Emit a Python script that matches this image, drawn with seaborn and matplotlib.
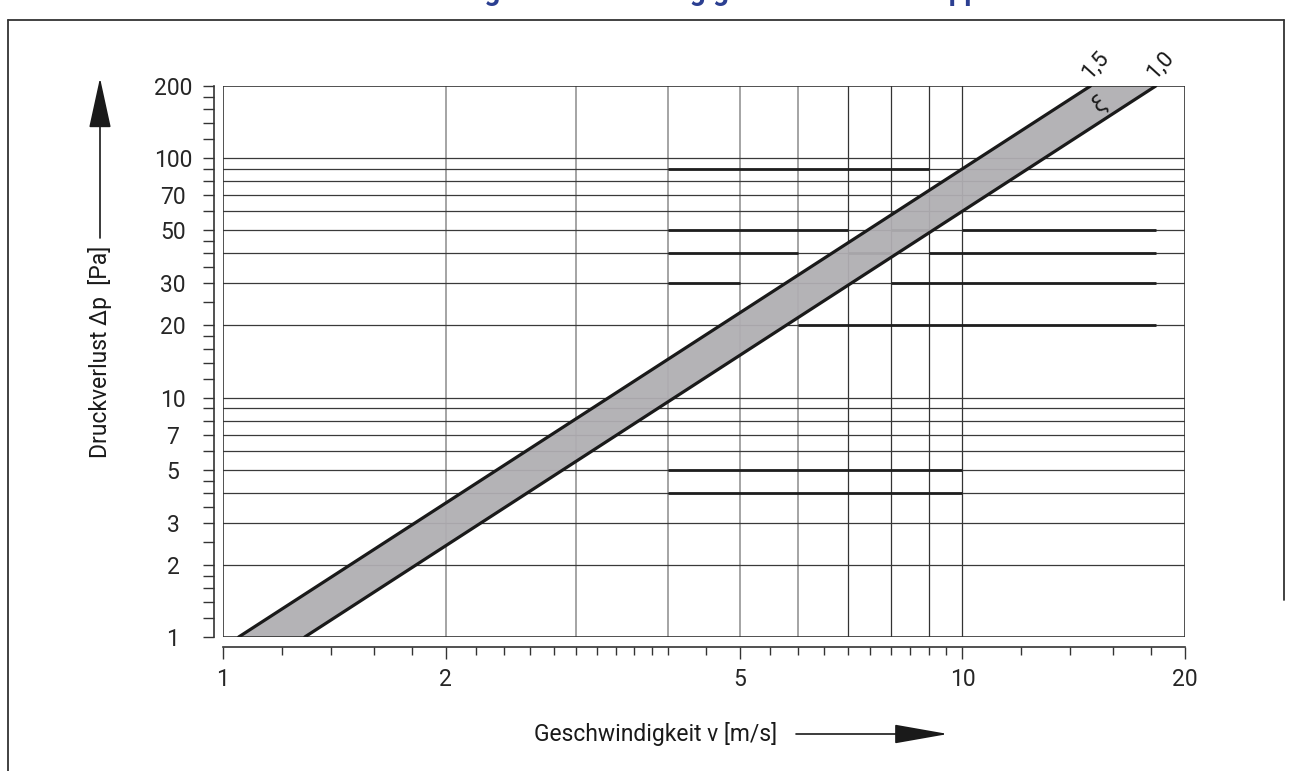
import numpy as np
import pandas as pd
import matplotlib.pyplot as plt
import seaborn as sns
from matplotlib.lines import Line2D
from matplotlib.ticker import FixedLocator, NullFormatter, FixedFormatter

# Kennlinien (Zeta-Werte), Anfangs- und Endpunkte im log-log-Diagramm
xi_labels = ['1,5', '1,0']
v_start = [1.05, 1.29]      # v [m/s] bei dp = 1 Pa
v_end = [14.9, 18.26]       # v [m/s] bei dp = 200 Pa
dp_ends = [1, 200]

# Achsen
x_major = [1, 2, 5, 10, 20]
x_minor = [1.2, 1.4, 1.6, 1.8, 2.2, 2.4, 2.6, 2.8, 3, 3.2, 3.4, 3.6, 3.8, 4, 4.5,
           5.5, 6, 6.5, 7, 7.5, 8, 8.5, 9, 9.5, 12, 14, 16, 18]
y_major = [1, 2, 3, 5, 7, 10, 20, 30, 50, 70, 100, 200]
y_minor = [1.2, 1.4, 1.6, 1.8, 2.5, 3.5, 4, 4.5, 6, 8, 9, 12, 14, 16, 18, 25, 35,
           40, 45, 60, 80, 90, 120, 140, 160, 180]
grid_v_light = [2, 3, 4, 5, 6]
grid_v_dark = [7, 8, 9, 10]
grid_h = [2, 3, 4, 5, 6, 7, 8, 9, 10, 20, 30, 40, 50, 60, 70, 80, 90, 100]

# kraeftig nachgezogene Rasterabschnitte: (dp, von v, bis v)
thick_dp = [90, 50, 50, 50, 40, 40, 40, 30, 30, 20, 5, 4]
thick_from = [4, 4, 8, 10, 4, 7, 9, 4, 8, 6, 4, 4]
thick_to = [9, 7, 9, 18.3, 6, 8, 18.3, 5, 18.3, 18.3, 10, 10]

sns.set_theme(style='white')
plt.rcParams['font.family'] = ['Roboto', 'DejaVu Sans']
plt.rcParams['text.color'] = '#1a1a1a'

W, H = 1291, 771
fig = plt.figure(figsize=(W / 100, H / 100), dpi=100)
ax = fig.add_axes([223 / W, 1 - 637 / H, 962 / W, 551 / H])
ax.set_xscale('log')
ax.set_yscale('log')
ax.set_xlim(1, 20)
ax.set_ylim(1, 200)

# Raster
for v in grid_v_light:
    ax.axvline(v, color='#8c8c8c', lw=1.1, zorder=1)
for v in grid_v_dark:
    ax.axvline(v, color='#333333', lw=0.9, zorder=1)
for d in grid_h:
    ax.axhline(d, color='#3a3a3a', lw=0.9, zorder=1)
for d, a, b in zip(thick_dp, thick_from, thick_to):
    ax.plot([a, b], [d, d], color='#1e1e1e', lw=2.0, solid_capstyle='butt', zorder=1.2)

# Rahmen des Diagrammfeldes
for v in [1, 20]:
    ax.axvline(v, color='#333333', lw=1.2, zorder=3)
for d in [1, 200]:
    ax.axhline(d, color='#333333', lw=1.2, zorder=3)

# Band zwischen den Kennlinien
ax.fill([v_start[0], v_end[0], v_end[1], v_start[1]],
        [dp_ends[0], dp_ends[1], dp_ends[1], dp_ends[0]],
        color='#b0aeb2', alpha=0.94, lw=0, zorder=2)

lines_df = pd.DataFrame({
    'v': v_start + v_end,
    'dp': [dp_ends[0]] * 2 + [dp_ends[1]] * 2,
    'xi': xi_labels * 2,
})
sns.lineplot(data=lines_df, x='v', y='dp', hue='xi', palette=['#1a1a1a', '#1a1a1a'],
             estimator=None, legend=False, lw=2.3, ax=ax, zorder=4)

for i, lab in enumerate(xi_labels):
    ax.annotate(lab, (v_end[i], dp_ends[1]), xytext=(2, 2), textcoords='offset points',
                rotation=48, rotation_mode='anchor', ha='left', va='bottom',
                fontsize=16, annotation_clip=False)
ax.text(15.3, 170, 'ξ', rotation=35, fontsize=17, ha='center', va='center', zorder=5)

# Achsen / Ticks
for s in ['top', 'right']:
    ax.spines[s].set_visible(False)
ax.spines['left'].set_position(('outward', 6.5))
ax.spines['bottom'].set_position(('outward', 7.5))
ax.spines['left'].set_bounds(1, 200)
ax.spines['bottom'].set_bounds(1, 20)
for s in ['left', 'bottom']:
    ax.spines[s].set_color('#333333')
    ax.spines[s].set_linewidth(1.2)

ax.xaxis.set_major_locator(FixedLocator(x_major))
ax.xaxis.set_major_formatter(FixedFormatter([str(v) for v in x_major]))
ax.xaxis.set_minor_locator(FixedLocator(x_minor))
ax.xaxis.set_minor_formatter(NullFormatter())
ax.yaxis.set_major_locator(FixedLocator(y_major))
ax.yaxis.set_major_formatter(FixedFormatter([str(v) for v in y_major]))
ax.yaxis.set_minor_locator(FixedLocator(y_minor))
ax.yaxis.set_minor_formatter(NullFormatter())

ax.tick_params(axis='x', which='major', direction='out', length=8.6, width=1.0,
               color='#333333', pad=6, labelsize=16.5, bottom=True)
ax.tick_params(axis='x', which='minor', direction='out', length=5.5, width=1.0,
               color='#333333', bottom=True)
ax.tick_params(axis='y', which='both', direction='out', length=8, width=1.0,
               color='#333333', left=True)
ax.tick_params(axis='y', which='major', pad=21.5, labelsize=16.5)
for t in ax.get_yticklabels():
    t.set_ha('center')
ax.set_xlabel('')
ax.set_ylabel('')

# Achsenbeschriftungen mit Pfeilen
fig.text(534 / W, 1 - 734 / H, 'Geschwindigkeit v [m/s]', ha='left', va='center', fontsize=16.5)
ax.annotate('', xy=(948, H - 734), xytext=(796, H - 734), xycoords='figure pixels',
            textcoords='figure pixels',
            arrowprops=dict(arrowstyle='-|>,head_length=1.7,head_width=0.3',
                            mutation_scale=20, lw=1.2, color='#1a1a1a', shrinkA=0, shrinkB=0))
fig.text(100 / W, 1 - 352 / H, 'Druckverlust Δp  [Pa]', ha='center', va='center',
         rotation=90, fontsize=16.5)
ax.annotate('', xy=(100, H - 78), xytext=(100, H - 238), xycoords='figure pixels',
            textcoords='figure pixels',
            arrowprops=dict(arrowstyle='-|>,head_length=1.6,head_width=0.35',
                            mutation_scale=20, lw=1.2, color='#1a1a1a', shrinkA=0, shrinkB=0))

# Seitenrahmen
fig.add_artist(Line2D([8 / W, 8 / W], [0, 1 - 20 / H], transform=fig.transFigure,
                      color='#333333', lw=1.3))
fig.add_artist(Line2D([8 / W, 1284 / W], [1 - 20 / H, 1 - 20 / H], transform=fig.transFigure,
                      color='#333333', lw=1.3))
fig.add_artist(Line2D([1284 / W, 1284 / W], [1 - 20 / H, 1 - 600 / H], transform=fig.transFigure,
                      color='#333333', lw=1.3))

# abgeschnittene Ueberschrift (nur Unterlaengen sichtbar)
fig.text(288 / W, 1.0, 'Druckverlustdiagramm in Abhängigkeit – Jalousieklappe',
         ha='left', va='baseline', fontsize=20, fontweight='bold', color='#2b3f91')

fig.savefig('out.png', dpi=100)
